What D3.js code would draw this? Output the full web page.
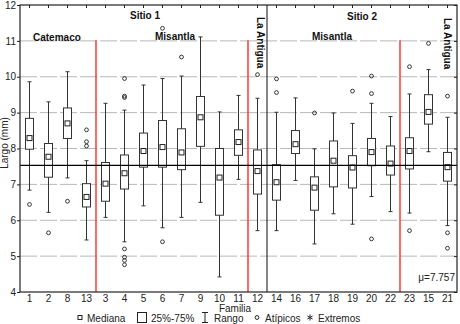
<!DOCTYPE html>
<html><head><meta charset="utf-8">
<script src="https://cdn.jsdelivr.net/npm/d3@7"></script>
<style>
html,body{margin:0;padding:0;background:#fff;}
svg{display:block;font-family:"Liberation Sans",Arial,sans-serif;}
</style></head>
<body><svg id="c" width="460" height="324"></svg>
<script>
const families = ["1","2","8","13","3","4","5","6","7","9","10","11","12","14","16","17","18","19","20","22","23","15","21"];
const whiskerLow  = [6.84,6.22,7.18,5.45,6.08,5.40,6.40,5.79,6.08,6.50,4.42,7.14,5.71,5.71,7.11,5.34,6.18,5.89,6.66,6.24,6.20,7.91,5.85];
const q1          = [7.98,7.20,8.28,6.37,6.53,6.87,7.48,7.48,7.41,8.06,6.14,7.81,6.73,6.56,7.86,6.28,6.93,6.90,7.52,7.26,7.43,8.68,7.09];
const medians     = [8.29,7.77,8.70,6.65,7.02,7.31,7.93,8.04,7.89,8.87,7.19,8.18,7.37,7.06,8.12,6.91,7.66,7.47,7.90,7.58,7.93,9.02,7.48];
const q3          = [8.84,8.14,9.13,7.02,7.61,7.82,8.43,8.78,8.55,9.45,8.00,8.52,7.96,7.55,8.50,7.21,8.21,7.80,8.28,8.07,8.30,9.50,7.89];
const whiskerHigh = [9.86,9.30,10.14,7.66,9.26,9.07,9.77,9.95,10.02,11.11,9.02,9.48,9.40,9.01,9.41,7.99,8.99,8.70,9.26,8.89,9.52,10.20,8.87];
const outliers = [[6.44],[5.65],[6.53],[8.52,8.19,8.07],[],[9.95,9.46,9.42,5.20,4.97,4.88,4.76],[],[11.35,5.40],[10.55],[],[],[],[10.06],[9.94,9.56],[],[8.99],[],[9.60],[10.02,9.53,5.48],[],[10.28,5.71],[10.93],[9.46,5.65,5.22]];
const yTicks = [4,5,6,7,8,9,10,11,12];
const meanLineValue = 7.53;
const meanLabel = "μ=7.757";
const redSeparatorsAfter = ["13","11","22"];
const blackSeparatorAfter = "12";
const groupLabels = [
  {text:"Sitio 1", x:130, y:19},
  {text:"Sitio 2", x:347, y:20},
  {text:"Catemaco", x:33, y:41},
  {text:"Misantla", x:155, y:40},
  {text:"Misantla", x:312, y:40}
];
const rotatedLabels = [{text:"La Antigua", x:257, y:17},{text:"La Antigua", x:444, y:18}];

const svg = d3.select("#c");
const L=20, R=457, T=5, B=292;
const x = d3.scaleBand().domain(families).range([L,R]);
const y = d3.scaleLinear().domain([4,12]).range([B,T]);
const bw = 8;

// gridlines
svg.append("g").selectAll("line").data(yTicks.filter(d=>d>4&&d<12)).join("line")
  .attr("x1",L).attr("x2",R).attr("y1",d=>y(d)).attr("y2",d=>y(d))
  .attr("stroke","#b8b8b8").attr("stroke-width",1).attr("stroke-dasharray","17,3");

// separators
svg.append("g").selectAll("line").data(redSeparatorsAfter).join("line")
  .attr("x1",d=>x(d)+x.bandwidth()).attr("x2",d=>x(d)+x.bandwidth())
  .attr("y1",B).attr("y2",y(11.02)).attr("stroke","#ff2a2a").attr("stroke-width",1.4);
svg.append("line").attr("x1",x(blackSeparatorAfter)+x.bandwidth()).attr("x2",x(blackSeparatorAfter)+x.bandwidth())
  .attr("y1",T).attr("y2",B).attr("stroke","#333").attr("stroke-width",1.2);

// boxes
const g = svg.append("g");
families.forEach((f,i)=>{
  const cx = x(f)+x.bandwidth()/2;
  const gg = g.append("g");
  gg.append("line").attr("x1",cx).attr("x2",cx).attr("y1",y(whiskerLow[i])).attr("y2",y(whiskerHigh[i])).attr("stroke","#333").attr("stroke-width",1);
  [whiskerLow[i],whiskerHigh[i]].forEach(v=>gg.append("line").attr("x1",cx-2).attr("x2",cx+2).attr("y1",y(v)).attr("y2",y(v)).attr("stroke","#333"));
  gg.append("rect").attr("x",cx-bw/2).attr("y",y(q3[i])).attr("width",bw).attr("height",y(q1[i])-y(q3[i]))
    .attr("fill","#fff").attr("stroke","#333").attr("stroke-width",1);
  gg.append("rect").attr("x",cx-2.5).attr("y",y(medians[i])-2.5).attr("width",5).attr("height",5)
    .attr("fill","#fff").attr("stroke","#222").attr("stroke-width",1);
  gg.selectAll("circle").data(outliers[i]).join("circle").attr("cx",cx).attr("cy",d=>y(d)).attr("r",1.9)
    .attr("fill","none").attr("stroke","#222").attr("stroke-width",0.9);
});

// mean line
svg.append("line").attr("x1",L).attr("x2",R).attr("y1",y(meanLineValue)).attr("y2",y(meanLineValue)).attr("stroke","#000").attr("stroke-width",1.2);

// frame
svg.append("rect").attr("x",L).attr("y",T).attr("width",R-L).attr("height",B-T).attr("fill","none").attr("stroke","#222").attr("stroke-width",1.2);

// axes
const yAxis = svg.append("g").attr("transform",`translate(${L},0)`).call(d3.axisLeft(y).tickValues(yTicks).tickSize(3).tickPadding(1));
yAxis.select(".domain").remove();
yAxis.selectAll("text").attr("font-size",10).attr("fill","#222").attr("font-family","Liberation Sans, Arial, sans-serif");
yAxis.selectAll("line").attr("stroke","#222");
const yAxisR = svg.append("g").attr("transform",`translate(${R},0)`).call(d3.axisLeft(y).tickValues(yTicks).tickSize(3).tickFormat(""));
yAxisR.select(".domain").remove(); yAxisR.selectAll("line").attr("stroke","#222");
const xTop = svg.append("g").attr("transform",`translate(0,${T})`).call(d3.axisBottom(x).tickSize(3).tickFormat(""));
xTop.select(".domain").remove(); xTop.selectAll("line").attr("stroke","#222");
const xAxis = svg.append("g").attr("transform",`translate(0,${B})`).call(d3.axisBottom(x).tickSize(0).tickPadding(2.5));
xAxis.select(".domain").remove();
xAxis.selectAll("text").attr("font-size",10).attr("fill","#222").attr("font-family","Liberation Sans, Arial, sans-serif");

// labels
svg.append("text").attr("x",235).attr("y",312).attr("text-anchor","middle").attr("font-size",10).attr("fill","#222").text("Familia");
svg.append("text").attr("transform","translate(8,143) rotate(-90)").attr("text-anchor","middle").attr("font-size",10).attr("fill","#222").text("Largo (mm)");
svg.append("text").attr("x",455).attr("y",281).attr("text-anchor","end").attr("font-size",10).attr("fill","#222").text(meanLabel);
groupLabels.forEach(d=>svg.append("text").attr("x",d.x).attr("y",d.y).attr("font-size",10).attr("font-weight","bold").attr("fill","#111").text(d.text));
rotatedLabels.forEach(d=>svg.append("text").attr("transform",`translate(${d.x},${d.y}) rotate(90)`).attr("font-size",10).attr("font-weight","bold").attr("fill","#111").text(d.text));

// legend
const lg = svg.append("g").attr("font-size",10).attr("fill","#222");
const ly = 321.5;
lg.append("rect").attr("x",78).attr("y",ly-6).attr("width",4).attr("height",4).attr("fill","#fff").attr("stroke","#222");
lg.append("text").attr("x",87).attr("y",ly).text("Mediana");
lg.append("rect").attr("x",137.5).attr("y",ly-9).attr("width",9).attr("height",10).attr("fill","#fff").attr("stroke","#222");
lg.append("text").attr("x",151).attr("y",ly).text("25%-75%");
lg.append("line").attr("x1",205).attr("x2",205).attr("y1",ly-9).attr("y2",ly+1).attr("stroke","#222");
lg.append("line").attr("x1",202).attr("x2",208).attr("y1",ly-9).attr("y2",ly-9).attr("stroke","#222");
lg.append("line").attr("x1",202).attr("x2",208).attr("y1",ly+1).attr("y2",ly+1).attr("stroke","#222");
lg.append("text").attr("x",214).attr("y",ly).text("Rango");
lg.append("circle").attr("cx",257).attr("cy",ly-4).attr("r",1.9).attr("fill","none").attr("stroke","#222");
lg.append("text").attr("x",265).attr("y",ly).text("Atípicos");
const ax=310, ay=ly-4;
[[0,-3,0,3],[-2.6,-1.5,2.6,1.5],[-2.6,1.5,2.6,-1.5]].forEach(s=>lg.append("line").attr("x1",ax+s[0]).attr("y1",ay+s[1]).attr("x2",ax+s[2]).attr("y2",ay+s[3]).attr("stroke","#222").attr("stroke-width",1));
lg.append("text").attr("x",318).attr("y",ly).text("Extremos");
</script></body></html>
